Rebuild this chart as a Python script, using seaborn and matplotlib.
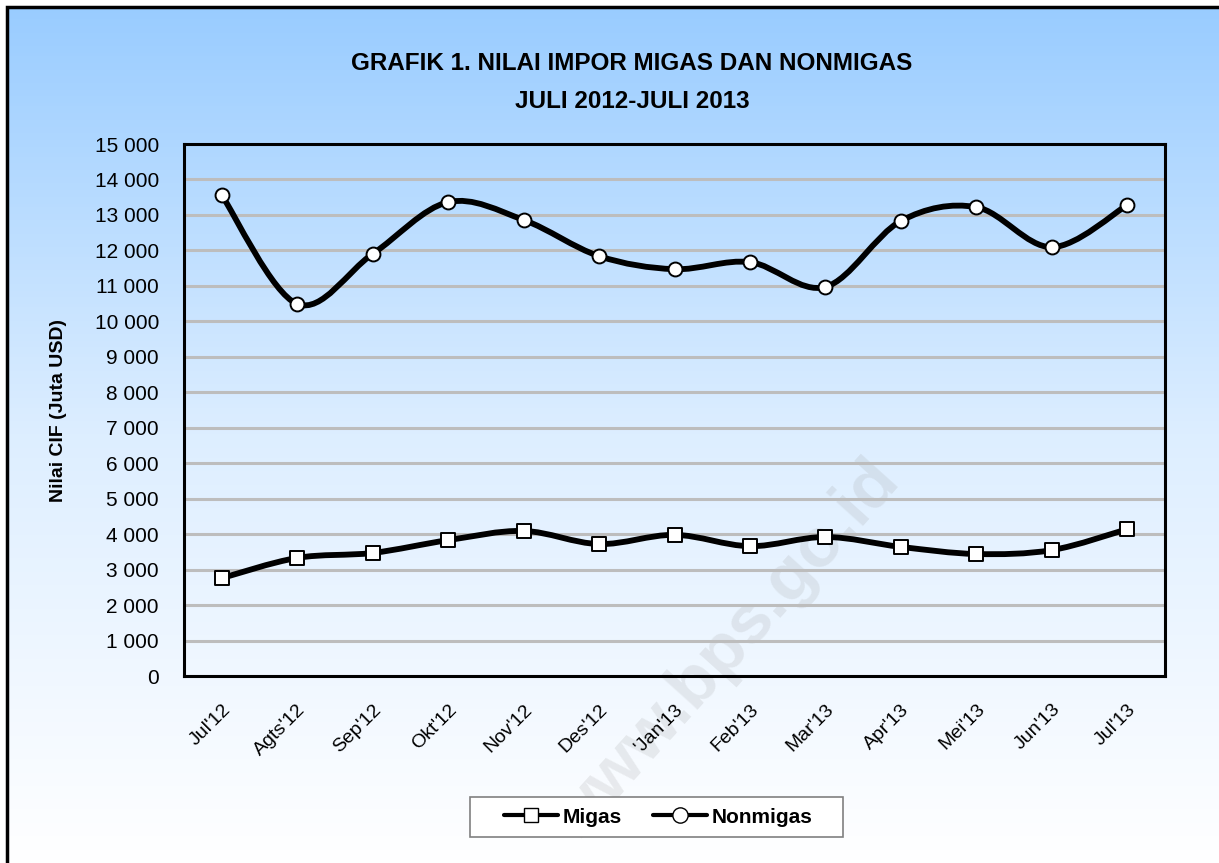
import numpy as np
import pandas as pd
import seaborn as sns
import matplotlib
matplotlib.use('Agg')
import matplotlib.pyplot as plt
from matplotlib.path import Path
from matplotlib.patches import PathPatch, Rectangle
from matplotlib.lines import Line2D
from matplotlib.colors import LinearSegmentedColormap
from matplotlib.ticker import FuncFormatter, MultipleLocator

sns.set_style('white')
plt.rcParams['font.family'] = ['Liberation Sans', 'DejaVu Sans']
plt.rcParams['text.color'] = 'black'
plt.rcParams['axes.labelcolor'] = 'black'
plt.rcParams['xtick.color'] = 'black'
plt.rcParams['ytick.color'] = 'black'

# data (juta USD)
bulan = ["Jul'12", "Agts'12", "Sep'12", "Okt'12", "Nov'12", "Des'12", "'Jan'13",
         "Feb'13", "Mar'13", "Apr'13", "Mei'13", "Jun'13", "Jul'13"]
migas = [2760, 3330, 3470, 3830, 4090, 3720, 3980, 3660, 3920, 3640, 3440, 3550, 4140]
nonmigas = [13560, 10490, 11900, 13360, 12860, 11840, 11470, 11670, 10970, 12830,
            13220, 12090, 13280]

df = pd.DataFrame({'pos': np.arange(len(bulan)), 'bulan': bulan,
                   'Migas': migas, 'Nonmigas': nonmigas})


def smooth_path(x, y):
    # kurva bezier ala "smoothed line" Excel
    pts = np.column_stack([x, y]).astype(float)
    n = len(pts)
    verts = [pts[0]]
    codes = [Path.MOVETO]
    for i in range(n - 1):
        p0 = pts[max(i - 1, 0)]
        p1 = pts[i]
        p2 = pts[i + 1]
        p3 = pts[min(i + 2, n - 1)]
        verts += [p1 + (p2 - p0) / 6, p2 - (p3 - p1) / 6, p2]
        codes += [Path.CURVE4] * 3
    return Path(verts, codes)


W, H = 1219, 863
fig = plt.figure(figsize=(W / 100, H / 100), dpi=100)
fig.patch.set_facecolor('white')

# latar gradasi biru
bg = fig.add_axes([7 / W, 0, 1, 1 - 7 / H], zorder=-2)
cmap = LinearSegmentedColormap.from_list('bg', ['#99CCFF', '#DDEEFF', '#FFFFFF'])
bg.imshow(np.linspace(0, 1, 256).reshape(-1, 1), aspect='auto', cmap=cmap,
          extent=[0, 1, 0, 1])
bg.set_axis_off()
fig.patches.append(Rectangle((7 / W, -0.1), 1.2, 1.1 - 7 / H, transform=fig.transFigure,
                             fill=False, edgecolor='black', linewidth=2.5, zorder=-1))

ax = fig.add_axes([184 / W, 1 - 676 / H, (1165 - 184) / W, (676 - 144) / H])
ax.set_facecolor('none')

for col in ['Migas', 'Nonmigas']:
    ax.add_patch(PathPatch(smooth_path(df['pos'], df[col]), facecolor='none',
                           edgecolor='black', linewidth=4.2, capstyle='round',
                           joinstyle='round', zorder=3))

sns.scatterplot(data=df, x='pos', y='Migas', marker='s', s=90, color='white',
                edgecolor='black', linewidth=1.4, zorder=4, ax=ax, legend=False)
sns.scatterplot(data=df, x='pos', y='Nonmigas', marker='o', s=100, color='white',
                edgecolor='black', linewidth=1.4, zorder=4, ax=ax, legend=False)

ax.set_xlim(-0.5, len(bulan) - 0.5)
ax.set_ylim(0, 15000)
ax.yaxis.set_major_locator(MultipleLocator(1000))
ax.yaxis.set_major_formatter(FuncFormatter(lambda v, p: f'{int(v):,}'.replace(',', ' ')))
ax.grid(axis='y', color='#BDBDBD', linewidth=2.2, zorder=1)
ax.set_axisbelow(True)

ax.set_xticks(df['pos'])
ax.set_xticklabels(bulan, rotation=45, ha='right', rotation_mode='anchor', fontsize=14)
ax.set_xticks(np.arange(-0.5, len(bulan)), minor=True)
ax.tick_params(axis='x', which='major', length=0, pad=18)
ax.tick_params(axis='x', which='minor', length=6, width=1.2, color='#808080')
ax.tick_params(axis='y', length=6, width=1.5, color='#808080', labelsize=15, pad=12)

for s in ax.spines.values():
    s.set_color('black')
    s.set_linewidth(2.2)

ax.set_xlabel('')
ax.set_ylabel('Nilai CIF (Juta USD)', fontsize=14, fontweight='bold', labelpad=20)

fig.text(632 / W, 1 - 63 / H, 'GRAFIK 1. NILAI IMPOR MIGAS DAN NONMIGAS',
         ha='center', va='center', fontsize=17.5, fontweight='bold')
fig.text(632 / W, 1 - 102 / H, 'JULI 2012-JULI 2013',
         ha='center', va='center', fontsize=17.5, fontweight='bold')

# watermark
fig.text(726 / W, 1 - 652 / H, 'www.bps.go.id', rotation=48, fontsize=50,
         fontweight='bold', color='#9a9a9a', alpha=0.18, ha='center', va='center',
         zorder=-0.5)

# legenda
fig.patches.append(Rectangle((470 / W, 1 - 837 / H), (843 - 470) / W, 40 / H,
                             transform=fig.transFigure, facecolor='white',
                             edgecolor='#808080', linewidth=1.2, zorder=5))
handles = [Line2D([], [], color='black', lw=3, marker='s', markersize=10,
                  markerfacecolor='white', markeredgecolor='black'),
           Line2D([], [], color='black', lw=3, marker='o', markersize=11,
                  markerfacecolor='white', markeredgecolor='black')]
leg = fig.legend(handles, ['Migas', 'Nonmigas'], loc='center',
                 bbox_to_anchor=(658 / W, 1 - 817 / H), ncol=2, frameon=False,
                 prop={'weight': 'bold', 'size': 15}, handlelength=2.6,
                 handletextpad=0.2, columnspacing=1.5)
leg.set_zorder(6)

fig.savefig('out.png', dpi=100)
